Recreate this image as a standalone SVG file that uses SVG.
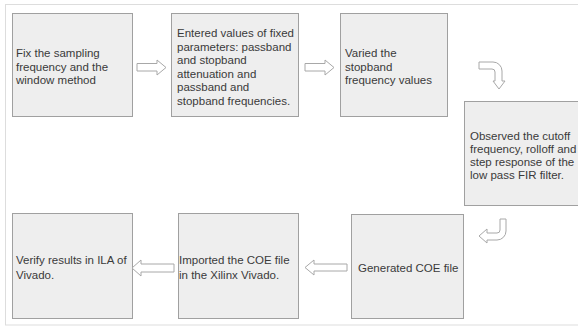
<svg xmlns="http://www.w3.org/2000/svg" width="578" height="327" viewBox="0 0 578 327">
<style>
.box{fill:#eeeeee;stroke:#a0a0a0;stroke-width:1}
.t{font-family:"Liberation Sans",Arial,sans-serif;font-size:11.5px;fill:#3a3a3a}
.arr{fill:#ffffff;stroke:#a8a8a8;stroke-width:1}
</style>
<rect x="0" y="0" width="578" height="327" fill="#ffffff"/>
<rect x="5.5" y="4.5" width="580" height="320.5" fill="none" stroke="#dddddd" stroke-width="1"/>
<g id="n1"><rect class="box" x="12.5" y="13.5" width="120" height="103"/>
<text class="t" x="16" y="57">Fix the sampling</text>
<text class="t" x="16" y="70.5">frequency and the</text>
<text class="t" x="16" y="84">window method</text></g>
<g id="n2"><rect class="box" x="171.5" y="13.5" width="127" height="103"/>
<text class="t" x="177" y="37">Entered values of fixed</text>
<text class="t" x="177" y="50.5">parameters: passband</text>
<text class="t" x="177" y="64">and stopband</text>
<text class="t" x="177" y="77.5">attenuation and</text>
<text class="t" x="177" y="91">passband and</text>
<text class="t" x="177" y="104.5">stopband frequencies.</text></g>
<g id="n3"><rect class="box" x="340.5" y="13.5" width="107" height="103"/>
<text class="t" x="345" y="57">Varied the</text>
<text class="t" x="345" y="70.5">stopband</text>
<text class="t" x="345" y="84">frequency values</text></g>
<g id="n4"><rect class="box" x="464.5" y="101.5" width="120" height="104"/>
<text class="t" x="470" y="140">Observed the cutoff</text>
<text class="t" x="470" y="153">frequency, rolloff and</text>
<text class="t" x="470" y="166">step response of the</text>
<text class="t" x="470" y="179">low pass FIR filter.</text></g>
<g id="n5"><rect class="box" x="351.5" y="214.5" width="112" height="104"/>
<text class="t" x="358" y="272">Generated COE file</text></g>
<g id="n6"><rect class="box" x="178.5" y="213.5" width="120" height="105"/>
<text class="t" x="179" y="264">Imported the COE file</text>
<text class="t" x="179" y="279">in the Xilinx Vivado.</text></g>
<g id="n7"><rect class="box" x="12.5" y="213.5" width="120" height="105"/>
<text class="t" x="16" y="264">Verify results in ILA of</text>
<text class="t" x="16" y="279">Vivado.</text></g>
<g id="connectors">
<path class="arr" d="M137,63.5 H157 V60 L166,67.5 L157,75 V71 H137 Z"/>
<path class="arr" d="M305,63.5 H325 V60 L334,67.5 L325,75 V71 H305 Z"/>
<path class="arr" d="M479,62 H493 A9 9 0 0 1 502,71 V81 H505 L499,89 L493,81 H495 V72 A3 3 0 0 0 492,69 H479 Z"/>
<path class="arr" d="M500,219 H506 V231 A9 9 0 0 1 497,240 H487 V243 L479,236 L487,229 V233 H497 A3 3 0 0 0 500,230 Z"/>
<path class="arr" d="M347,264 H314 V260 L305,267.5 L314,275 V271 H347 Z"/>
<path class="arr" d="M174,264 H141 V260 L132,268 L141,276 V272 H174 Z"/>
</g>
</svg>
